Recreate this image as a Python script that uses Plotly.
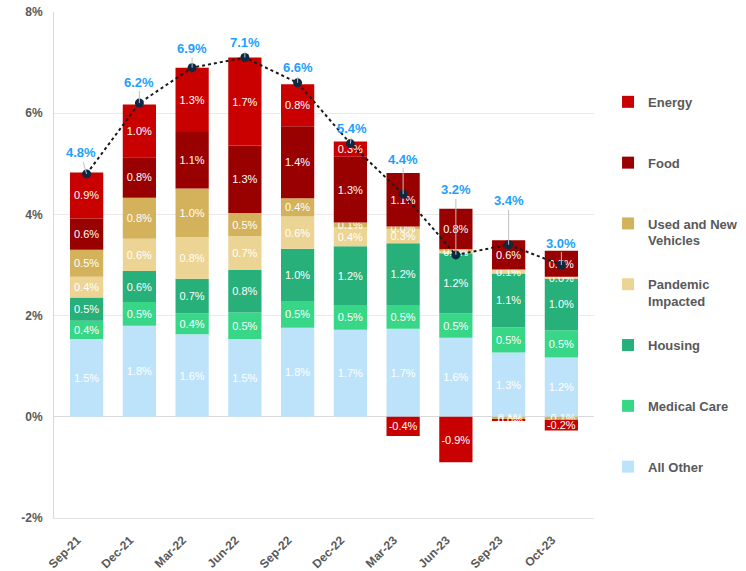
import plotly.graph_objects as go

# ---------------- data ----------------
months = ["Sep-21", "Dec-21", "Mar-22", "Jun-22", "Sep-22",
          "Dec-22", "Mar-23", "Jun-23", "Sep-23", "Oct-23"]
all_other = [1.54, 1.80, 1.63, 1.54, 1.76, 1.72, 1.74, 1.56, 1.27, 1.17]
medical_care = [0.36, 0.47, 0.41, 0.52, 0.53, 0.49, 0.47, 0.48, 0.50, 0.54]
housing = [0.46, 0.61, 0.69, 0.84, 1.03, 1.16, 1.22, 1.19, 1.06, 1.03]
pandemic_impacted = [0.41, 0.64, 0.82, 0.67, 0.64, 0.38, 0.30, 0.04, 0.08, 0.03]
vehicles = [0.53, 0.81, 0.96, 0.46, 0.36, 0.09, 0.03, 0.04, -0.06, -0.06]
food = [0.62, 0.80, 1.12, 1.33, 1.42, 1.30, 1.06, 0.80, 0.58, 0.51]
energy = [0.91, 1.04, 1.27, 1.74, 0.83, 0.30, -0.38, -0.90, -0.02, -0.21]
headline = [4.8, 6.2, 6.9, 7.1, 6.6, 5.4, 4.4, 3.2, 3.4, 3.0]

y_ticks = [-2, 0, 2, 4, 6, 8]
y_tick_labels = ["-2%", "0%", "2%", "4%", "6%", "8%"]

# ---------------- styling ----------------
series = [
    ("All Other", all_other, "#BDE3FB"),
    ("Medical Care", medical_care, "#38D788"),
    ("Housing", housing, "#27B07A"),
    ("Pandemic<br>Impacted", pandemic_impacted, "#ECD594"),
    ("Used and New<br>Vehicles", vehicles, "#D4B25C"),
    ("Food", food, "#990000"),
    ("Energy", energy, "#C80000"),
]
label_dx = [-6, 0, 0, 0, 0, 2, 0, 0, 0, 0]
label_dy = [-21, -21, -19, -15, -15, -15, -35, -65, -44, -22]

FONT = "Liberation Sans, Arial, sans-serif"
GRAY = "#595959"
NB = "\u00a0"

fig = go.Figure()
n = len(series)
for k, (name, vals, color) in enumerate(series):
    lines = name.split("<br>")
    if len(lines) == 1:
        lines.append(NB)
    legend_name = "<br>".join(f"<b>{s}</b>" for s in lines)
    fig.add_trace(go.Bar(
        x=months, y=vals, name=legend_name, legendgroup=name,
        legendrank=n - k,
        marker=dict(color=color, line=dict(width=0)),
        text=[f"{v:.1f}%" for v in vals],
        textposition="inside", insidetextanchor="middle", textangle=0,
        textfont=dict(color="white", size=11, family=FONT),
        hoverinfo="skip",
    ))

fig.add_trace(go.Scatter(
    x=months, y=headline, mode="lines+markers", showlegend=False,
    line=dict(color="#1a1a1a", width=2, dash="dot"),
    marker=dict(color="#0E2841", size=9),
    hoverinfo="skip",
))

for i, (m, v) in enumerate(zip(months, headline)):
    fig.add_annotation(
        x=m, y=v, text=f"<b>{v:.1f}%</b>", showarrow=True,
        arrowhead=0, arrowwidth=1, arrowcolor="#BFBFBF", standoff=0,
        ax=label_dx[i], ay=label_dy[i],
        font=dict(color="#1E9FFF", size=13, family=FONT),
    )

fig.update_layout(
    width=746, height=571,
    margin=dict(l=54, r=152, t=12, b=53, autoexpand=False),
    paper_bgcolor="white", plot_bgcolor="white",
    barmode="relative", bargap=0.37,
    uniformtext=dict(minsize=11, mode="show"),
    font=dict(family=FONT, color=GRAY),
    showlegend=True,
    legend=dict(
        x=1.026, xanchor="left", y=0.852, yanchor="top",
        traceorder="grouped", tracegroupgap=24, valign="top",
        font=dict(size=13, color=GRAY, family=FONT),
        bgcolor="rgba(0,0,0,0)",
    ),
)
fig.update_yaxes(
    range=[-2, 8], tickvals=y_ticks, ticktext=[f"<b>{t}</b>" for t in y_tick_labels],
    tickfont=dict(size=12, color=GRAY, family=FONT),
    showgrid=True, gridcolor="#EAEAEA", gridwidth=1,
    zeroline=True, zerolinecolor="#D9D9D9", zerolinewidth=1,
    showline=True, linecolor="#D9D9D9", linewidth=1,
    ticks="", ticklabelstandoff=8, automargin=False,
    ticklabeloverflow="allow",
)
fig.update_xaxes(
    tickangle=-45, tickfont=dict(size=12, color=GRAY, family=FONT),
    ticktext=[f"<b>{m}</b>{NB * 4}" for m in months], tickvals=months,
    showline=True, linecolor="#E3E3E3", linewidth=1,
    showgrid=False, ticks="", automargin=False,
    ticklabeloverflow="allow",
)

fig.write_html(
    "out.html",
    config={"displayModeBar": False},
    post_script="document.body.style.margin='0';document.body.style.overflow='hidden';",
)
